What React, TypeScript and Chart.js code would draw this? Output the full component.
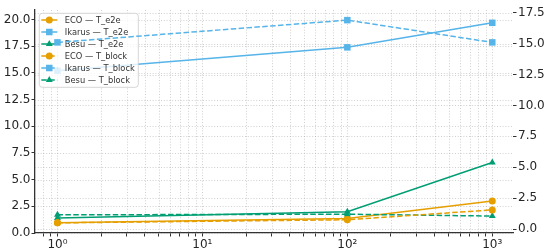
import React, { useEffect, useRef } from 'react';
import { Chart, registerables } from 'chart.js';

Chart.register(...registerables);

// ---- data ----
const xValues = [1, 100, 1000];
const ecoE2e = [0.95, 1.35, 3.0];
const ikarusE2e = [15.2, 17.4, 19.7];
const besuE2e = [1.4, 2.0, 6.6];
const ecoBlock = [0.5, 0.75, 1.55];
const ikarusBlock = [15.1, 16.9, 15.1];
const besuBlock = [1.15, 1.2, 1.05];

const leftTicks = [0, 2.5, 5, 7.5, 10, 12.5, 15, 17.5, 20];
const rightTicks = [0, 2.5, 5, 7.5, 10, 12.5, 15, 17.5];
const xTickValues = [0.8, 0.9, 1, 2, 3, 4, 5, 6, 7, 8, 9, 10, 20, 30, 40, 50, 60, 70, 80, 90, 100, 200, 300, 400, 500, 600, 700, 800, 900, 1000];

const labels = ['ECO — T_e2e', 'Ikarus — T_e2e', 'Besu — T_e2e', 'ECO — T_block', 'Ikarus — T_block', 'Besu — T_block'];

const ORANGE = '#E69F00';
const BLUE = '#56B4E9';
const GREEN = '#009E73';
const DASH = [5.5, 2.4];
const SUP = ['⁰', '¹', '²', '³', '⁴'];

const toPts = (arr: number[]) => xValues.map((x, i) => ({ x, y: arr[i] }));

function drawMarker(ctx: CanvasRenderingContext2D, style: string, x: number, y: number, r: number, color: string) {
  ctx.save();
  ctx.fillStyle = color;
  ctx.setLineDash([]);
  ctx.beginPath();
  if (style === 'circle') {
    ctx.arc(x, y, r, 0, Math.PI * 2);
  } else if (style === 'rect') {
    const s = r / Math.SQRT2;
    ctx.rect(x - s, y - s, 2 * s, 2 * s);
  } else {
    const h = r * 1.5;
    ctx.moveTo(x, y - r);
    ctx.lineTo(x + h / Math.sqrt(3), y + r / 2);
    ctx.lineTo(x - h / Math.sqrt(3), y + r / 2);
    ctx.closePath();
  }
  ctx.fill();
  ctx.restore();
}

const gridPlugin = {
  id: 'dottedGrid',
  beforeDatasetsDraw(chart: any) {
    const { ctx, chartArea } = chart;
    const { left, right, top, bottom } = chartArea;
    ctx.save();
    ctx.strokeStyle = 'rgba(160,160,160,0.55)';
    ctx.lineWidth = 0.9;
    ctx.setLineDash([1, 1.8]);
    const xs = chart.scales.x;
    xs.ticks.forEach((t: any) => {
      const px = Math.round(xs.getPixelForValue(t.value)) + 0.5;
      if (px < left || px > right) return;
      ctx.beginPath();
      ctx.moveTo(px, top);
      ctx.lineTo(px, bottom);
      ctx.stroke();
    });
    ['y', 'y2'].forEach((id) => {
      const s = chart.scales[id];
      s.ticks.forEach((t: any) => {
        const py = Math.round(s.getPixelForValue(t.value)) + 0.5;
        if (py < top - 1 || py > bottom + 1) return;
        ctx.beginPath();
        ctx.moveTo(left, py);
        ctx.lineTo(right, py);
        ctx.stroke();
      });
    });
    ctx.restore();
  },
};

const legendPlugin = {
  id: 'mplLegend',
  afterDatasetDraw(chart: any, args: any) {
    if (args.index !== 0) return;
    const { ctx, chartArea } = chart;
    const bx = chartArea.left + 4.3;
    const by = chartArea.top + 3.3;
    const bw = 99;
    const bh = 74;
    ctx.save();
    ctx.beginPath();
    const r = 3;
    ctx.moveTo(bx + r, by);
    ctx.lineTo(bx + bw - r, by);
    ctx.arcTo(bx + bw, by, bx + bw, by + r, r);
    ctx.lineTo(bx + bw, by + bh - r);
    ctx.arcTo(bx + bw, by + bh, bx + bw - r, by + bh, r);
    ctx.lineTo(bx + r, by + bh);
    ctx.arcTo(bx, by + bh, bx, by + bh - r, r);
    ctx.lineTo(bx, by + r);
    ctx.arcTo(bx, by, bx + r, by, r);
    ctx.closePath();
    ctx.fillStyle = 'rgba(255,255,255,0.8)';
    ctx.fill();
    ctx.strokeStyle = 'rgba(204,204,204,0.8)';
    ctx.lineWidth = 1;
    ctx.stroke();
    ctx.font = '8.3px "DejaVu Sans"';
    ctx.textBaseline = 'middle';
    ctx.textAlign = 'left';
    chart.data.datasets.forEach((ds: any, i: number) => {
      const cy = by + 6.7 + i * 12;
      const x0 = bx + 2;
      const x1 = bx + 18;
      ctx.save();
      ctx.strokeStyle = ds.borderColor;
      ctx.lineWidth = ds.borderWidth;
      ctx.setLineDash(ds.borderDash || []);
      ctx.beginPath();
      ctx.moveTo(x0, cy);
      ctx.lineTo(x1, cy);
      ctx.stroke();
      ctx.restore();
      drawMarker(ctx, ds.pointStyle, (x0 + x1) / 2, cy, ds.pointRadius, ds.borderColor);
      ctx.fillStyle = '#333333';
      ctx.fillText(ds.label, bx + 25.5, cy + 0.5);
    });
    ctx.restore();
  },
};

export default function App() {
  const ref = useRef<HTMLCanvasElement | null>(null);

  useEffect(() => {
    if (!ref.current) return;
    Chart.defaults.font.family = '"DejaVu Sans"';
    const mk = (label: string, arr: number[], color: string, style: string, radius: number, dashed: boolean) => ({
      label,
      data: toPts(arr),
      borderColor: color,
      backgroundColor: color,
      borderWidth: 1.5,
      borderDash: dashed ? DASH : [],
      pointStyle: style,
      pointRadius: radius,
      pointBorderWidth: 0,
      pointBackgroundColor: color,
      yAxisID: dashed ? 'y2' : 'y',
      order: dashed ? 0 : 1,
      tension: 0,
      fill: false,
    });
    const chart = new Chart(ref.current, {
      type: 'line',
      data: {
        datasets: [
          mk(labels[0], ecoE2e, ORANGE, 'circle', 3.5, false),
          mk(labels[1], ikarusE2e, BLUE, 'rect', 4.6, false),
          mk(labels[2], besuE2e, GREEN, 'triangle', 4, false),
          mk(labels[3], ecoBlock, ORANGE, 'circle', 3.5, true),
          mk(labels[4], ikarusBlock, BLUE, 'rect', 4.6, true),
          mk(labels[5], besuBlock, GREEN, 'triangle', 4, true),
        ] as any,
      },
      options: {
        animation: false,
        responsive: true,
        maintainAspectRatio: false,
        layout: { padding: { top: 10, left: 0, right: 0, bottom: 0 } },
        plugins: { legend: { display: false }, tooltip: { enabled: false } },
        scales: {
          x: {
            type: 'logarithmic',
            min: 0.71,
            max: 1390,
            afterBuildTicks: (s: any) => {
              s.ticks = xTickValues.map((v) => ({ value: v }));
            },
            afterFit: (s: any) => {
              s.height = 19;
            },
            ticks: {
              autoSkip: false,
              maxRotation: 0,
              padding: 1,
              color: '#262626',
              font: { size: 12 },
              callback: (v: any) => {
                const e = Math.log10(Number(v));
                const re = Math.round(e);
                return Math.abs(e - re) < 1e-9 ? '10' + SUP[re] : '';
              },
            },
            grid: { drawOnChartArea: false, drawTicks: true, tickLength: 3.5, tickColor: '#333333', tickWidth: 1 },
            border: { display: true, color: '#333333', width: 1.3 },
          },
          y: {
            type: 'linear',
            position: 'left',
            min: 0,
            max: 20.9,
            afterBuildTicks: (s: any) => {
              s.ticks = leftTicks.map((v) => ({ value: v }));
            },
            afterFit: (s: any) => {
              s.width = 35;
            },
            ticks: {
              padding: 1,
              color: '#262626',
              font: { size: 12 },
              callback: (v: any) => Number(v).toFixed(1),
            },
            grid: { drawOnChartArea: false, drawTicks: true, tickLength: 3.5, tickColor: '#333333', tickWidth: 1 },
            border: { display: true, color: '#333333', width: 1.3 },
          },
          y2: {
            type: 'linear',
            position: 'right',
            min: -0.32,
            max: 17.72,
            afterBuildTicks: (s: any) => {
              s.ticks = rightTicks.map((v) => ({ value: v }));
            },
            afterFit: (s: any) => {
              s.width = 37;
            },
            ticks: {
              padding: 1.5,
              color: '#262626',
              font: { size: 12 },
              callback: (v: any) => Number(v).toFixed(1),
            },
            grid: { drawOnChartArea: false, drawTicks: true, tickLength: 3.5, tickColor: '#333333', tickWidth: 1 },
            border: { display: false },
          },
        },
      } as any,
      plugins: [gridPlugin, legendPlugin],
    });
    return () => chart.destroy();
  }, []);

  return (
    <div style={{ position: 'fixed', left: 0, top: 0, width: 550, height: 252, background: '#ffffff' }}>
      <canvas ref={ref} />
    </div>
  );
}
